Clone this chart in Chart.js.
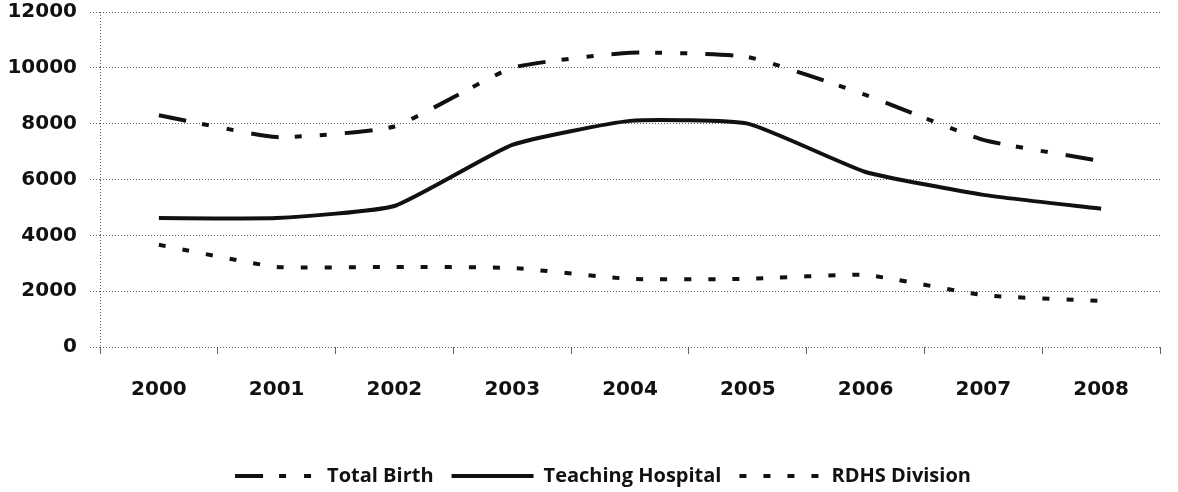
<!DOCTYPE html>
<html>
<head>
<meta charset="utf-8">
<title>Births 2000-2008</title>
<script src="https://cdn.jsdelivr.net/npm/chart.js@4.4.1/dist/chart.umd.min.js"></script>
<style>
    html, body { margin: 0; padding: 0; background: #fff; }
    #wrap { width: 1178px; height: 492px; position: relative; }
</style>
</head>
<body>
<div id="wrap"><canvas id="birthChart"></canvas></div>
<script>
// Годы и ряды данных
const years = ['2000', '2001', '2002', '2003', '2004', '2005', '2006', '2007', '2008'];
const totalBirth = [8300, 7520, 7900, 10000, 10540, 10390, 9030, 7420, 6660];
const teachingHospital = [4620, 4620, 5050, 7240, 8100, 8000, 6270, 5450, 4950];
const rdhsDivision = [3660, 2870, 2870, 2830, 2440, 2440, 2580, 1860, 1650];
const yTicks = [0, 2000, 4000, 6000, 8000, 10000, 12000];

const ink = '#111111';
const gridColor = 'rgba(60, 60, 60, 0.8)';

function makeSeries(label, values, dash) {
    return {
        label: label,
        data: values,
        borderColor: ink,
        backgroundColor: ink,
        borderWidth: 4,
        borderDash: dash,
        tension: 0.15,
        pointRadius: 0,
        fill: false
    };
}

// легенда: переносим штрих и толщину линии из датасета
function legendLabels(chart) {
    const items = Chart.defaults.plugins.legend.labels.generateLabels(chart);
    items.forEach(item => {
        const ds = chart.data.datasets[item.datasetIndex];
        item.lineDash = ds.borderDash;
        item.lineWidth = ds.borderWidth;
        item.strokeStyle = ds.borderColor;
        item.lineCap = 'butt';
    });
    return items;
}

// сдвигаем блок легенды чуть вправо
const legendShift = {
    id: 'legendShift',
    beforeDraw(chart) {
        if (chart.legend) chart.legend.left = 46;
    }
};

const ctx = document.getElementById('birthChart').getContext('2d');
const chart = new Chart(ctx, {
    type: 'line',
    data: {
        labels: years,
        datasets: [
            makeSeries('Total Birth', totalBirth, [28, 16, 7, 18, 7, 18]),
            makeSeries('Teaching Hospital', teachingHospital, []),
            makeSeries('RDHS Division', rdhsDivision, [7, 17])
        ]
    },
    plugins: [legendShift],
    options: {
        responsive: true,
        maintainAspectRatio: false,
        animation: false,
        layout: { padding: { left: 0, right: 18, top: 0, bottom: -4 } },
        plugins: {
            tooltip: { enabled: false },
            legend: {
                position: 'bottom',
                labels: {
                    usePointStyle: true,
                    pointStyle: 'line',
                    pointStyleWidth: 82,
                    padding: 18,
                    color: ink,
                    generateLabels: legendLabels,
                    font: { family: 'Open Sans', weight: 'bold', size: 20 }
                }
            }
        },
        scales: {
            x: {
                offset: true,
                afterFit: scale => { scale.height = 101; },
                grid: {
                    offset: true,
                    drawOnChartArea: true,
                    // только левая граница области видна как ось
                    color: c => c.index === 0 ? gridColor : 'transparent',
                    tickColor: gridColor,
                    tickLength: 7,
                    lineWidth: 1
                },
                border: { display: false, dash: [1, 2] },
                ticks: {
                    color: ink,
                    padding: 24,
                    maxRotation: 0,
                    font: { family: 'DejaVu Sans', weight: 'bold', size: 20 }
                }
            },
            y: {
                min: 0,
                max: 12000,
                afterFit: scale => {
                    scale.width = 100;
                    scale.paddingTop = 12;
                },
                afterBuildTicks: scale => { scale.ticks = yTicks.map(v => ({ value: v })); },
                grid: {
                    color: gridColor,
                    tickColor: gridColor,
                    tickLength: 10,
                    tickBorderDash: [1, 2],
                    lineWidth: 1
                },
                border: { display: false, dash: [1, 2] },
                ticks: {
                    color: ink,
                    padding: 13,
                    callback: v => String(v),
                    font: { family: 'DejaVu Sans', weight: 'bold', size: 20 }
                }
            }
        }
    }
});
</script>
</body>
</html>
